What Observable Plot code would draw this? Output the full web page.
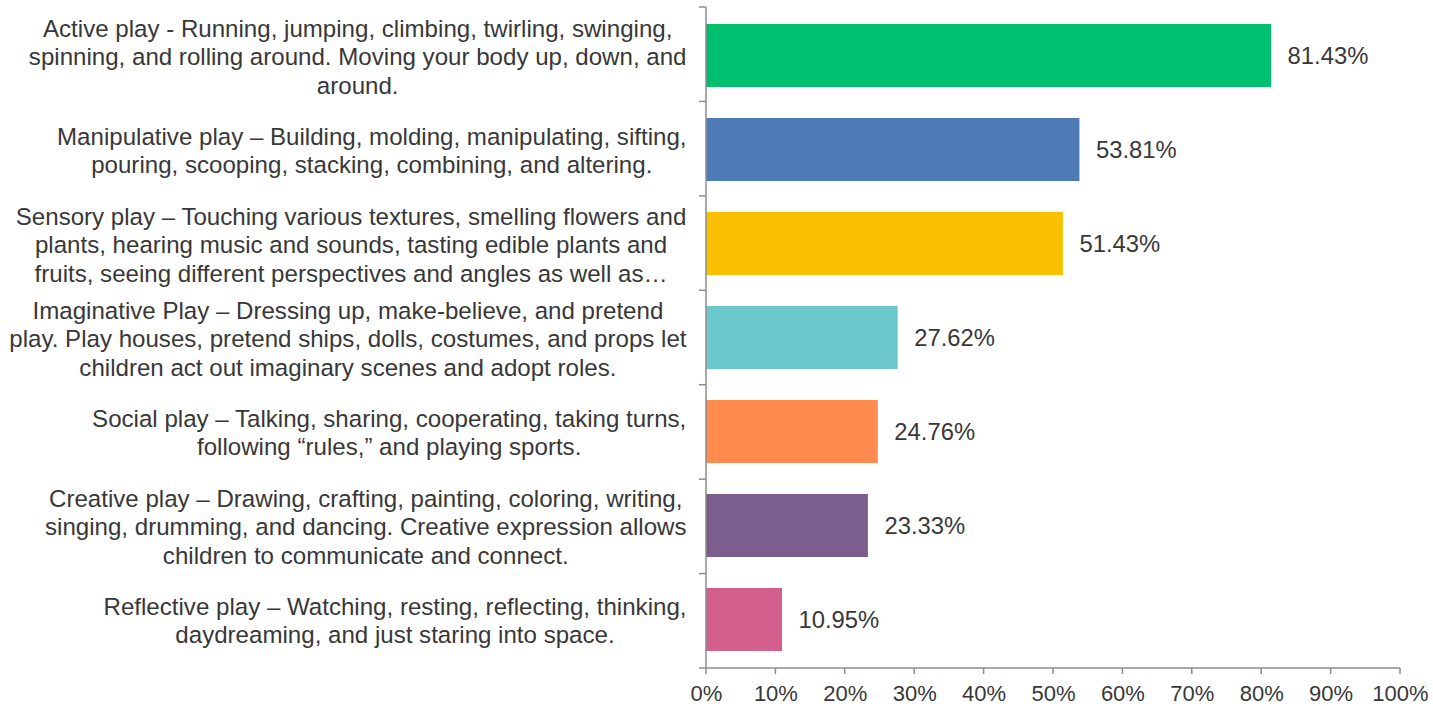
<!DOCTYPE html>
<html>
<head>
<meta charset="utf-8">
<script src="https://cdn.jsdelivr.net/npm/d3@7"></script>
<script src="https://cdn.jsdelivr.net/npm/@observablehq/plot@0.6"></script>
<style>
  html, body { margin: 0; padding: 0; background: #fff; }
  #chart svg { display: block; }
</style>
</head>
<body>
<div id="chart"></div>
<script>
// ---- data ----
const categories = [
  "Active play - Running, jumping, climbing, twirling, swinging,\nspinning, and rolling around. Moving your body up, down, and\naround.",
  "Manipulative play \u2013 Building, molding, manipulating, sifting,\npouring, scooping, stacking, combining, and altering.",
  "Sensory play \u2013 Touching various textures, smelling flowers and\nplants, hearing music and sounds, tasting edible plants and\nfruits, seeing different perspectives and angles as well as\u2026",
  "Imaginative Play \u2013 Dressing up, make-believe, and pretend\nplay. Play houses, pretend ships, dolls, costumes, and props let\nchildren act out imaginary scenes and adopt roles.",
  "Social play \u2013 Talking, sharing, cooperating, taking turns,\nfollowing \u201crules,\u201d and playing sports.",
  "Creative play \u2013 Drawing, crafting, painting, coloring, writing,\nsinging, drumming, and dancing. Creative expression allows\nchildren to communicate and connect.",
  "Reflective play \u2013 Watching, resting, reflecting, thinking,\ndaydreaming, and just staring into space."
];
const values = [81.43, 53.81, 51.43, 27.62, 24.76, 23.33, 10.95];
const colors = ["#00BF6F", "#4E7BB5", "#F9BF00", "#6BC8CC", "#FF8B4F", "#7B5D8E", "#D35F8D"];
const xTicks = [0, 10, 20, 30, 40, 50, 60, 70, 80, 90, 100];

const data = categories.map((c, i) => ({category: c, value: values[i]}));

// ---- styling ----
const FONT = '"Liberation Sans", Arial, Helvetica, sans-serif';
const TEXT = "#383838";
const AXIS = "#8c8c8c";
const labelSize = 24.1;
const valueSize = 23.8;
const tickSize = 22;
const labelGap = 20;

const ctx = document.createElement("canvas").getContext("2d");
ctx.font = `${labelSize}px "Liberation Sans"`;
const blockWidth = s => Math.max(...s.split("\n").map(l => ctx.measureText(l).width));

// axis lines and band-boundary ticks, positioned from the plot's scales
function axisLines(index, scales, vals, dims) {
  const n = categories.length;
  const top = dims.marginTop, bottom = dims.height - dims.marginBottom;
  const x0 = scales.x(0), x1 = scales.x(100);
  const step = (bottom - top) / n;
  const g = d3.create("svg:g")
    .attr("stroke", AXIS).attr("stroke-width", 1.5).attr("fill", "none");
  g.append("line").attr("x1", x0).attr("x2", x0).attr("y1", top).attr("y2", bottom);
  g.append("line").attr("x1", x0).attr("x2", x1).attr("y1", bottom).attr("y2", bottom);
  for (let i = 0; i <= n; i++) {
    g.append("line").attr("x1", x0 - 7).attr("x2", x0)
      .attr("y1", top + i * step).attr("y2", top + i * step);
  }
  for (const t of xTicks) {
    g.append("line").attr("x1", scales.x(t)).attr("x2", scales.x(t))
      .attr("y1", bottom).attr("y2", bottom + 6);
  }
  return g.node();
}

const labelMarks = categories.map(c => Plot.text([c], {
  y: d => d,
  text: d => d,
  frameAnchor: "left",
  dx: -(labelGap + blockWidth(c) / 2),
  textAnchor: "middle",
  lineAnchor: "middle",
  lineHeight: 1.18,
  fontSize: labelSize,
  fill: TEXT
}));

const chart = Plot.plot({
  width: 1433,
  height: 706,
  marginLeft: 706,
  marginRight: 33,
  marginTop: 7,
  marginBottom: 38,
  style: {fontFamily: FONT, background: "#fff", overflow: "visible", color: TEXT},
  x: {domain: [0, 100], axis: null},
  y: {domain: categories, paddingInner: 0.335, paddingOuter: 0.1675, axis: null},
  color: {domain: categories, range: colors},
  marks: [
    Plot.barX(data, {x: "value", y: "category", fill: "category"}),
    axisLines,
    Plot.axisX({
      ticks: xTicks,
      tickFormat: d => d + "%",
      tickSize: 0,
      tickPadding: 17,
      fontSize: tickSize,
      fill: TEXT,
      label: null
    }),
    ...labelMarks,
    Plot.text(data, {
      x: "value",
      y: "category",
      text: d => d.value.toFixed(2) + "%",
      textAnchor: "start",
      dx: 16,
      fontSize: valueSize,
      fill: TEXT
    })
  ]
});

document.getElementById("chart").appendChild(chart);
</script>
</body>
</html>
